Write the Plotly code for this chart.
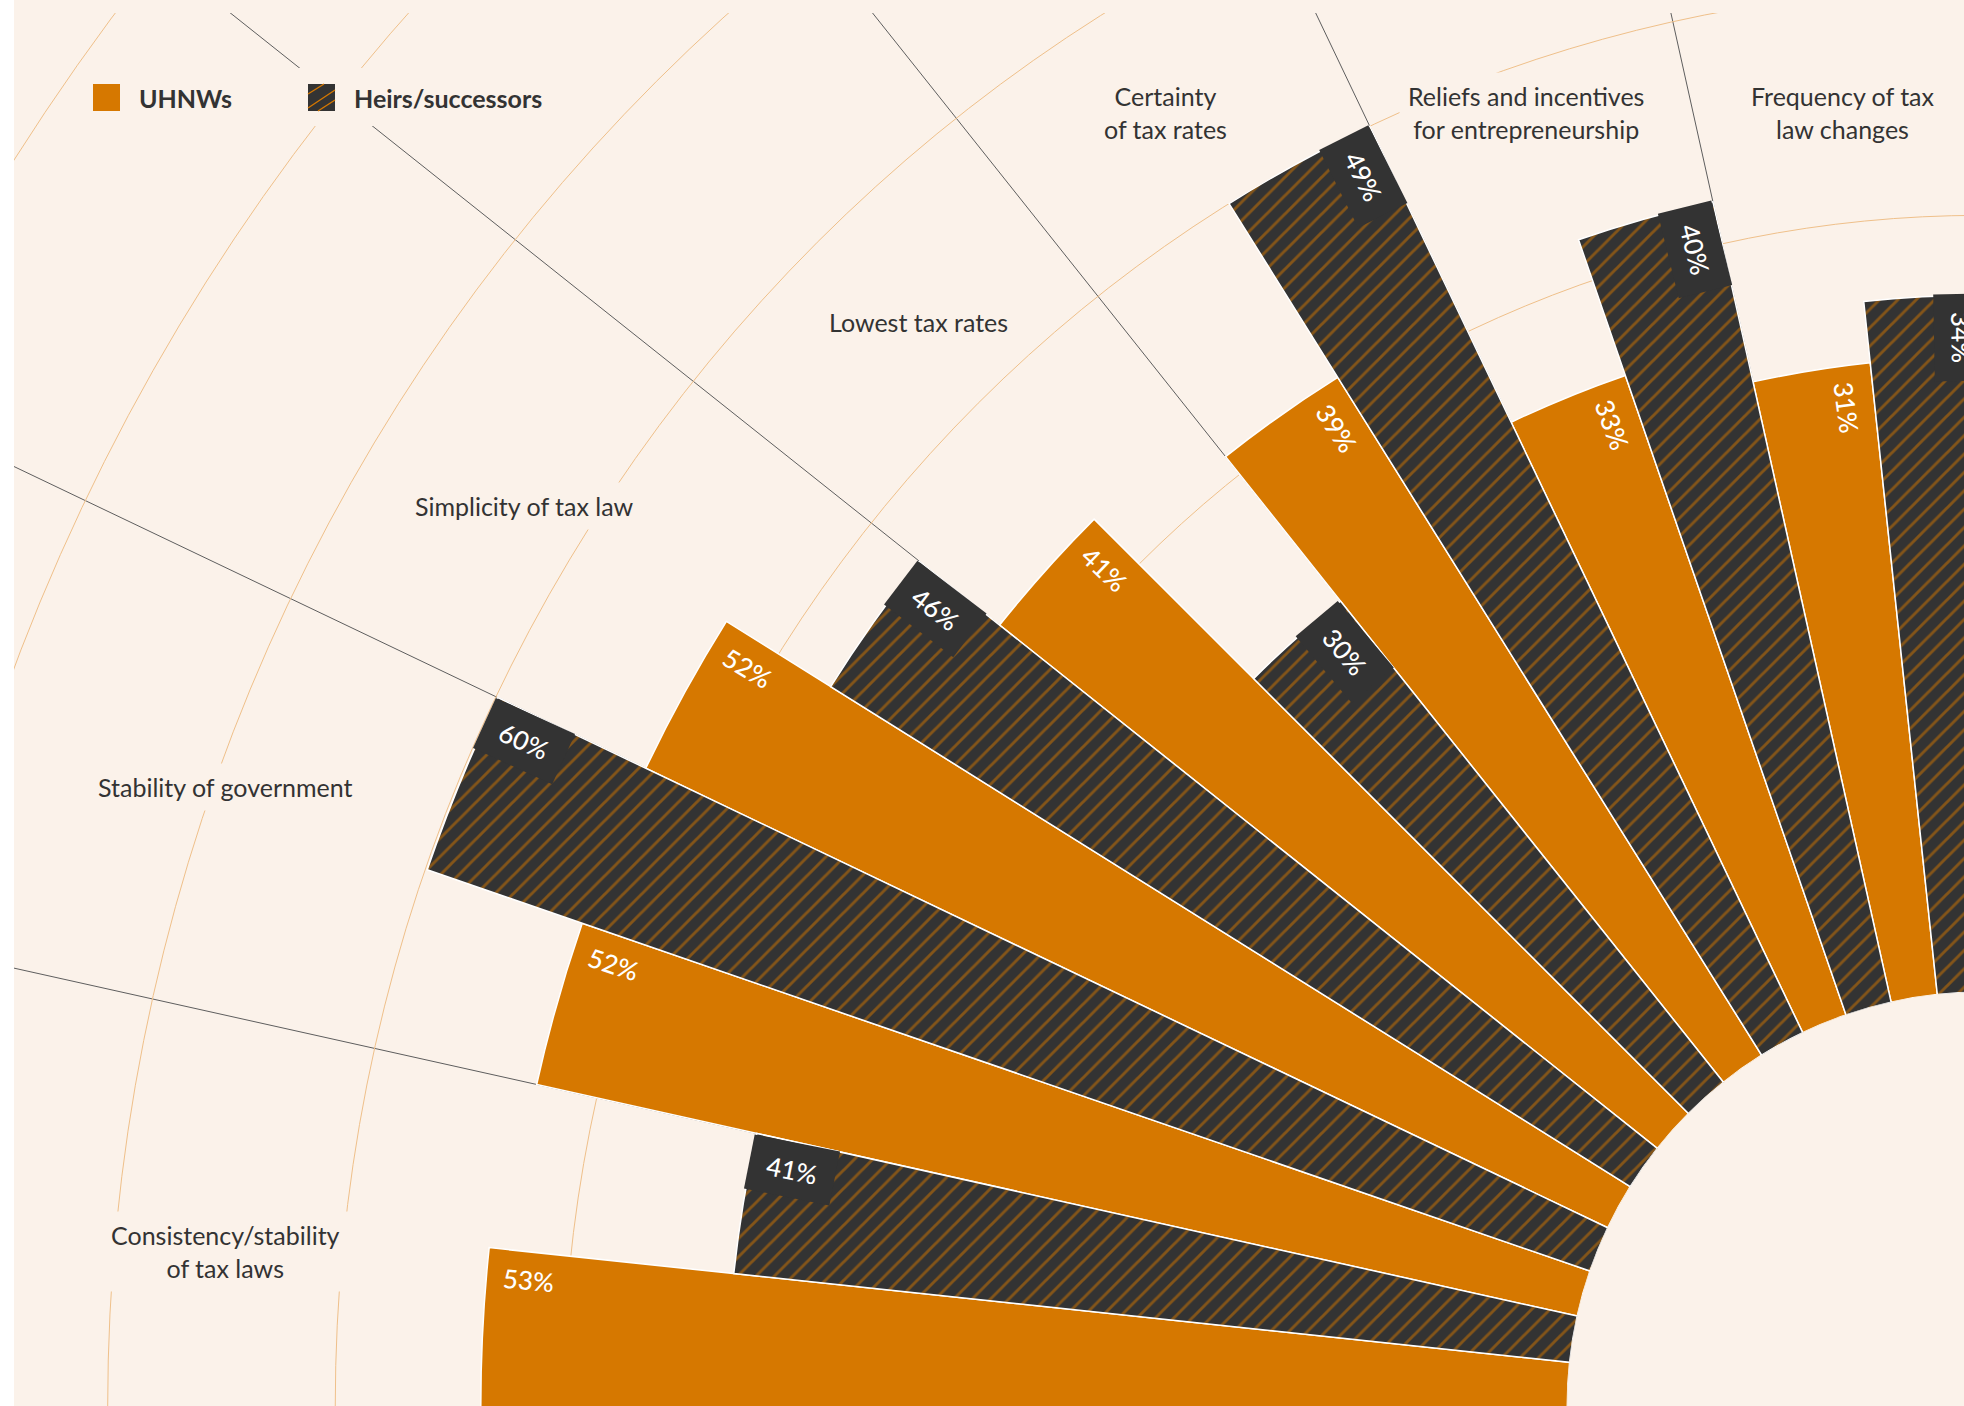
import math
import plotly.graph_objects as go

# ---------------- data ----------------
categories = [
    "Consistency/stability<br>of tax laws",
    "Stability of government",
    "Simplicity of tax law",
    "Lowest tax rates",
    "Certainty<br>of tax rates",
    "Reliefs and incentives<br>for entrepreneurship",
    "Frequency of tax<br>law changes",
]
uhnw_pct = [53, 52, 52, 41, 39, 33, 31]
heirs_pct = [41, 60, 46, 30, 49, 40, 34]
series_names = ["UHNWs", "Heirs/successors"]

# ---------------- geometry & style ----------------
VIEW_W, VIEW_H = 1964, 1406
POLE_X, POLE_Y = 1981, 1406      # page position of the fan's centre
SIZE = 2424                      # square figure: the quarter disc reaches the far corner
HOLE_PX = 413.7                  # radius of the empty core
PX_PER_PCT = 20.5                # radial pixels per percentage point
R_MAX = (SIZE - HOLE_PX) / PX_PER_PCT
STEP = 6.49                      # angular width of one bar (degrees)
ARC_LEVELS = [4.6, 15.7, 26.8, 37.9, 49.0, 60.1, 71.2, 82.3, 93.4]
label_pos = [(225, 1251), (225, 787), (524, 506), (918, 322),
             (1165, 112), (1526, 112), (1843, 112)]

ORANGE = "#D67800"
DARK = "#333333"
CREAM = "#FBF2EA"
TEXT = "#333333"
ARC = "#EFC08A"
SEP = "#5E5E5E"
FONT = "Lato, 'Noto Sans', sans-serif"

ORIGIN_X, ORIGIN_Y = POLE_X - SIZE, POLE_Y - SIZE


def px(x):
    return (x - ORIGIN_X) / SIZE


def py(y):
    return 1 - (y - ORIGIN_Y) / SIZE


def alpha_center(j):
    # angle above the leftward horizontal, growing clockwise towards 12 o'clock
    return 45 + (j - 6.5) * STEP


def theta_of(j):
    return 180 - alpha_center(j)


n = len(categories)
uhnw_theta = [theta_of(2 * c) for c in range(n)]
heirs_theta = [theta_of(2 * c + 1) for c in range(n)]
sep_theta = [180 - (45 + (k - 7) * STEP) for k in range(2, 2 * n, 2)]

fig = go.Figure()
fig.add_trace(go.Barpolar(
    r=uhnw_pct, theta=uhnw_theta, width=STEP, name=series_names[0],
    marker=dict(color=ORANGE, line=dict(color="white", width=1.5)),
    hoverinfo="skip", showlegend=False,
))
fig.add_trace(go.Barpolar(
    r=heirs_pct, theta=heirs_theta, width=STEP, name=series_names[1],
    marker=dict(color=DARK, line=dict(color="white", width=1.5),
                pattern=dict(shape="/", fgcolor=ORANGE, bgcolor=DARK,
                             size=13, solidity=0.22)),
    hoverinfo="skip", showlegend=False,
))

annotations = []

# value labels at the outer end of each bar, reading inwards
for c in range(n):
    for s, vals in enumerate([uhnw_pct, heirs_pct]):
        v = vals[c]
        j = 2 * c + s
        r_out = HOLE_PX + v * PX_PER_PCT
        r_t = r_out - 42
        a_t = alpha_center(j) + STEP / 2 - math.degrees(28 / r_t)
        x = POLE_X - r_t * math.cos(math.radians(a_t))
        y = POLE_Y - r_t * math.sin(math.radians(a_t))
        ann = dict(text=f"{v}%", x=px(x), y=py(y), xref="paper", yref="paper",
                   xanchor="center", yanchor="middle", showarrow=False,
                   textangle=a_t,
                   font=dict(family=FONT, size=26, color="white", weight=500))
        if s == 1:
            ann.update(bgcolor=DARK, width=86, height=54, borderpad=0)
        annotations.append(ann)

# category names
for c in range(n):
    x, y = label_pos[c]
    annotations.append(dict(
        text=categories[c], x=px(x), y=py(y), xref="paper", yref="paper",
        xanchor="center", yanchor="middle", showarrow=False, align="center",
        bgcolor=CREAM, borderpad=8,
        font=dict(family=FONT, size=25, color=TEXT)))

# legend text
for name, x in zip(series_names, [137, 352]):
    annotations.append(dict(
        text=name, x=px(x), y=py(98), xref="paper", yref="paper",
        xanchor="left", yanchor="middle", showarrow=False,
        font=dict(family=FONT, size=25, color=TEXT, weight=700)))


def rect(x0, y0, x1, y1, color):
    return dict(type="rect", xref="paper", yref="paper", layer="above",
                x0=px(x0), x1=px(x1), y0=py(y1), y1=py(y0),
                fillcolor=color, line=dict(width=0))


def seg(x0, y0, x1, y1, color, w):
    return dict(type="line", xref="paper", yref="paper", layer="above",
                x0=px(x0), x1=px(x1), y0=py(y0), y1=py(y1),
                line=dict(color=color, width=w))


shapes = [
    rect(ORIGIN_X, ORIGIN_Y, VIEW_W + 40, 13, CREAM),     # top band without rules
    rect(ORIGIN_X, ORIGIN_Y, 14, VIEW_H + 10, "white"),   # left page margin
    rect(80, 68, 560, 126, CREAM),                        # legend backdrop
    rect(93, 84, 120, 111, ORANGE),                       # UHNWs swatch
    rect(308, 84, 335, 111, DARK),                        # heirs swatch
    seg(308, 94, 324, 84, ORANGE, 1.4),
    seg(308, 108, 335, 90, ORANGE, 1.4),
    seg(318, 111, 335, 100, ORANGE, 1.4),
]

fig.update_layout(
    width=SIZE, height=SIZE,
    margin=dict(l=0, r=0, t=0, b=0, pad=0),
    paper_bgcolor=CREAM,
    showlegend=False,
    font=dict(family=FONT, color=TEXT),
    polar=dict(
        domain=dict(x=[0, 1], y=[0, 1]),
        sector=[90, 180],
        hole=HOLE_PX / SIZE,
        bgcolor=CREAM,
        radialaxis=dict(range=[0, R_MAX], tickmode="array", tickvals=ARC_LEVELS,
                        showticklabels=False, ticks="", showline=False,
                        gridcolor=ARC, gridwidth=1.3),
        angularaxis=dict(thetaunit="degrees", direction="counterclockwise", rotation=0,
                         tickmode="array", tickvals=sep_theta, showticklabels=False,
                         ticks="", showline=False, gridcolor=SEP, gridwidth=0.8),
    ),
    annotations=annotations,
    shapes=shapes,
)

# place the square figure so the fan's centre lands at the page's lower-right corner
page_js = (
    "var gd=document.getElementById('{plot_id}');"
    "gd.style.position='absolute';"
    "gd.style.left='%dpx';gd.style.top='%dpx';"
    "document.documentElement.style.overflow='hidden';"
    "document.body.style.overflow='hidden';"
) % (ORIGIN_X, ORIGIN_Y)

fig.write_html("out.html", post_script=page_js,
               config={"displayModeBar": False, "responsive": False})
